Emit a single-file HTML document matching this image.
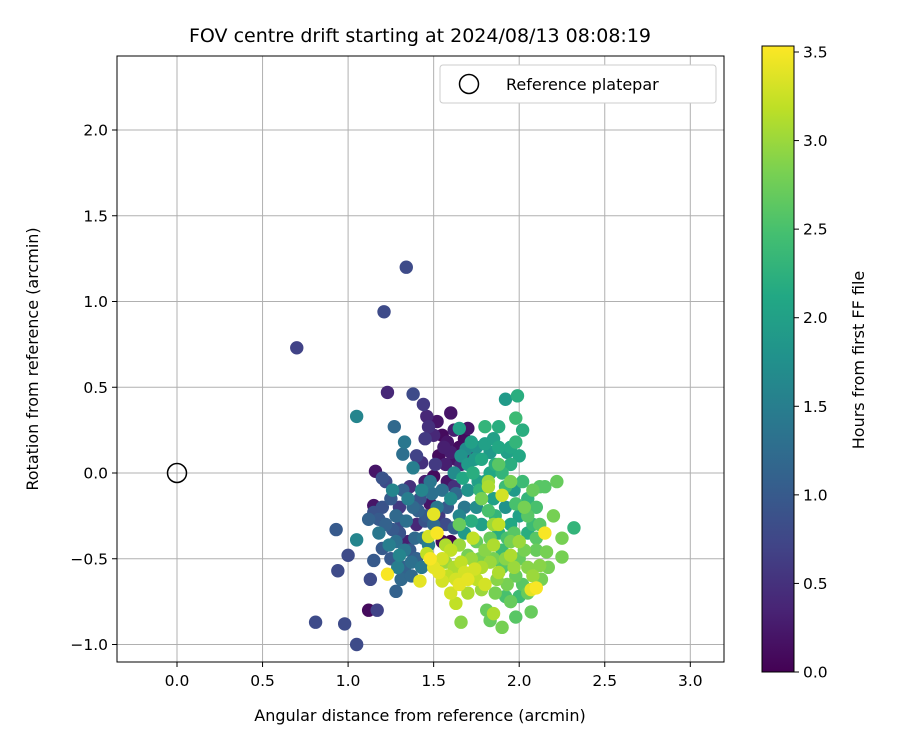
<!DOCTYPE html>
<html><head><meta charset="utf-8"><style>
body{margin:0;background:#fff;font-family:"Liberation Sans","DejaVu Sans",sans-serif}
svg text{font-family:"DejaVu Sans","Liberation Sans",sans-serif}
</style></head><body>
<svg id="chart" width="900" height="750" xmlns="http://www.w3.org/2000/svg">
<defs>
<linearGradient id="vir" x1="0" y1="1" x2="0" y2="0">
<stop offset="0" stop-color="#440154"/><stop offset="0.1" stop-color="#482475"/><stop offset="0.2" stop-color="#414487"/><stop offset="0.3" stop-color="#355f8d"/><stop offset="0.4" stop-color="#2a788e"/><stop offset="0.5" stop-color="#21918c"/><stop offset="0.6" stop-color="#22a884"/><stop offset="0.7" stop-color="#44bf70"/><stop offset="0.8" stop-color="#7ad151"/><stop offset="0.9" stop-color="#bddf26"/><stop offset="1" stop-color="#fde725"/>
</linearGradient>
<clipPath id="clip"><rect x="117" y="56" width="607" height="606"/></clipPath>
</defs>
<rect width="900" height="750" fill="#fff"/>
<g id="grid"></g>
<g id="pts" clip-path="url(#clip)"></g>
<circle cx="177" cy="473" r="9.5" fill="none" stroke="#000" stroke-width="1.5"/>
<rect x="117" y="56" width="607" height="606" fill="none" stroke="#000" stroke-width="1"/>
<g id="axes"></g>
<text x="420" y="42" font-size="19" text-anchor="middle">FOV centre drift starting at 2024/08/13 08:08:19</text>
<text x="420" y="721" font-size="16" text-anchor="middle">Angular distance from reference (arcmin)</text>
<text x="38" y="359" font-size="16" text-anchor="middle" transform="rotate(-90 38 359)">Rotation from reference (arcmin)</text>
<g>
<rect x="440" y="65" width="276" height="38" rx="3" fill="#fff" stroke="#ccc"/>
<circle cx="469" cy="84" r="9.5" fill="none" stroke="#000" stroke-width="1.5"/>
<text x="506" y="90" font-size="16">Reference platepar</text>
</g>
<rect x="762" y="46" width="32" height="626" fill="url(#vir)" stroke="#000" stroke-width="1"/>
<g id="cbaxis"></g>
<text x="864" y="360" font-size="16" text-anchor="middle" transform="rotate(-90 864 360)">Hours from first FF file</text>
</svg>
<script>
const xTicks=["0.0","0.5","1.0","1.5","2.0","2.5","3.0"];
const yTicks=["−1.0","−0.5","0.0","0.5","1.0","1.5","2.0"];
const cTicks=["0.0","0.5","1.0","1.5","2.0","2.5","3.0","3.5"];
const P=[
[0.70,0.73,0.7],[1.21,0.94,0.8],[1.34,1.20,0.8],[1.23,0.47,0.4],[1.38,0.46,0.8],[1.05,0.33,1.6],[1.99,0.45,2.2],[1.92,0.43,1.9],[1.44,0.40,0.6],[1.46,0.33,0.4],[1.52,0.30,0.2],[1.60,0.35,0.2],[0.93,-0.33,1.0],[0.94,-0.57,0.8],[0.81,-0.87,0.8],[0.98,-0.88,0.8],[1.05,-1.00,0.8],[1.12,-0.80,0.1],[1.17,-0.80,0.7],[1.00,-0.48,0.8],[1.05,-0.39,1.6],[1.13,-0.62,0.8],[1.16,0.01,0.2],[1.15,-0.19,0.2],[1.20,-0.44,1.0],[1.15,-0.51,1.0],[2.32,-0.32,2.3],[2.25,-0.38,2.8],[2.25,-0.49,2.8],[2.22,-0.05,2.7],[2.12,-0.08,2.6],[2.02,0.25,2.2],[1.98,0.32,2.4],[1.88,0.27,2.2],[1.80,0.27,2.3],[1.65,0.26,2.0],[1.66,-0.87,2.9],[1.63,-0.76,3.2],[1.81,-0.80,2.7],[1.83,-0.86,2.7],[1.90,-0.90,2.8],[1.98,-0.84,2.6],[2.07,-0.81,2.7],[1.85,-0.82,3.1],[2.10,-0.67,3.5],[2.07,-0.68,3.4],[1.23,-0.59,3.5],[1.28,-0.69,1.1],[2.15,-0.35,3.5],[2.12,-0.54,2.9],[2.17,-0.55,2.8],[2.16,-0.46,2.8],[1.31,-0.62,1.2],
[1.55,0.22,0.1],[1.58,0.18,0.2],[1.62,0.25,0.3],[1.65,0.15,0.1],[1.70,0.26,0.2],[1.68,0.20,0.1],[1.60,0.12,0.3],[1.50,0.22,0.4],[1.47,0.27,0.5],[1.45,0.20,0.6],[1.53,0.10,0.1],[1.57,0.05,0.3],[1.63,0.08,0.2],[1.72,0.12,0.3],[1.58,-0.05,0.2],[1.50,-0.02,0.1],[1.43,0.06,0.5],[1.40,0.10,0.7],[1.55,-0.40,0.1],[1.60,-0.40,0.0],[1.48,-0.18,0.2],[1.45,-0.05,0.3],[1.36,-0.08,0.5],[1.40,-0.30,0.4],[1.30,-0.20,0.6],[1.35,-0.40,0.3],
[1.15,-0.23,0.9],[1.18,-0.27,1.0],[1.20,-0.20,0.9],[1.22,-0.30,1.1],[1.25,-0.15,1.0],[1.28,-0.25,1.2],[1.30,-0.35,0.9],[1.32,-0.10,1.1],[1.34,-0.28,1.3],[1.36,-0.45,1.0],[1.38,-0.20,1.2],[1.40,-0.50,1.1],[1.42,-0.15,0.9],[1.44,-0.38,1.3],[1.46,-0.25,1.0],[1.48,-0.05,1.4],[1.25,-0.50,1.0],[1.33,-0.55,1.1],[1.22,-0.05,0.8],[1.20,-0.03,0.9],[1.27,0.27,1.2],[1.33,0.18,1.4],[1.32,0.11,1.3],[1.38,0.03,1.5],[1.28,-0.40,1.3],[1.35,-0.15,1.5],[1.43,-0.10,1.6],[1.50,-0.30,1.2],[1.52,-0.20,1.4],[1.55,-0.10,1.3],[1.18,-0.35,1.4],[1.24,-0.42,1.5],[1.30,-0.48,1.6],[1.37,-0.60,1.2],[1.43,-0.55,1.4],[1.47,-0.42,1.5],[1.12,-0.27,1.1],[1.26,-0.10,1.6],
[1.62,0.00,1.7],[1.66,0.10,1.8],[1.70,0.05,1.9],[1.72,0.18,2.0],[1.75,0.15,1.8],[1.78,0.08,2.1],[1.80,0.17,2.0],[1.83,0.12,1.9],[1.86,0.05,2.2],[1.88,0.15,2.1],[1.90,0.00,2.3],[1.93,0.12,2.0],[1.95,0.05,2.2],[1.98,0.18,2.3],[2.00,0.10,2.1],[2.02,-0.05,2.4],[1.97,-0.10,1.9],[1.92,-0.20,1.8],[1.85,-0.15,2.0],[1.80,-0.05,1.9],[1.75,-0.20,1.7],[1.70,-0.10,1.8],[1.65,-0.25,1.6],[1.60,-0.15,1.7],[1.68,-0.35,1.9],[1.78,-0.30,2.0],[1.88,-0.35,2.2],[1.95,-0.30,2.1],[2.00,-0.25,2.0],[2.05,-0.15,2.3],[1.73,0.00,2.2],[1.82,-0.22,2.5],[1.90,-0.45,2.4],[2.05,-0.35,2.2],[2.08,-0.30,2.4],[1.67,-0.03,2.1],
[1.75,-0.40,2.7],[1.80,-0.45,2.9],[1.85,-0.50,2.8],[1.90,-0.55,2.6],[1.95,-0.40,2.8],[2.00,-0.50,2.7],[2.05,-0.55,2.9],[2.10,-0.45,2.7],[2.12,-0.30,2.6],[2.15,-0.08,2.6],[2.08,-0.10,2.7],[2.03,-0.20,2.8],[1.98,-0.60,2.7],[2.02,-0.65,2.6],[1.93,-0.65,2.8],[1.87,-0.62,2.9],[1.95,-0.75,2.7],[1.92,-0.72,2.5],[2.00,-0.72,2.4],[1.78,-0.15,2.8],[1.82,-0.05,3.0],[1.85,-0.30,3.0],[1.65,-0.30,2.7],[1.70,-0.48,2.8],[2.20,-0.25,2.8],[2.08,-0.60,3.0],[1.88,0.05,2.6],[1.95,-0.05,2.8],
[1.50,-0.55,3.4],[1.55,-0.50,3.3],[1.58,-0.60,3.2],[1.62,-0.55,3.1],[1.65,-0.65,3.4],[1.68,-0.58,3.3],[1.72,-0.50,3.0],[1.75,-0.62,3.2],[1.78,-0.55,3.1],[1.80,-0.65,3.3],[1.83,-0.52,3.0],[1.60,-0.45,3.2],[1.52,-0.35,3.5],[1.48,-0.50,3.5],[1.50,-0.24,3.4],[1.47,-0.37,3.3],[1.42,-0.63,3.4],[1.55,-0.63,3.3],[1.70,-0.70,3.1],[1.65,-0.42,3.0],[1.73,-0.38,3.2],[1.90,-0.13,3.3],[1.82,-0.08,3.1],[1.88,-0.30,3.2],[1.95,-0.48,3.1],[2.00,-0.40,3.0],[1.60,-0.70,3.3],[1.57,-0.52,3.0],[1.85,-0.42,3.1],
[1.53,-0.25,0.6],[1.57,-0.30,0.8],[1.62,-0.32,1.1],[1.58,-0.20,1.0],[1.63,-0.12,1.2],[1.68,-0.20,1.4],[1.45,-0.28,0.9],[1.39,-0.38,1.2],[1.33,-0.45,1.4],[1.26,-0.33,1.0],[1.31,-0.28,0.8],[1.41,-0.22,1.1],[1.49,-0.12,1.3],[1.37,-0.52,1.3],[1.29,-0.55,1.5],[1.56,0.15,0.3],[1.66,0.05,0.4],[1.51,0.05,0.6],[1.62,-0.08,0.5],[1.72,-0.28,2.2],[1.77,-0.10,2.3],[1.83,0.00,2.1],[1.92,-0.08,2.4],[1.98,-0.18,2.5],[2.05,-0.25,2.6],[2.10,-0.20,2.5],[1.97,-0.35,2.6],[1.83,-0.38,2.7],[1.77,-0.50,2.8],[1.92,-0.50,2.9],[2.03,-0.45,2.8],[1.97,-0.55,3.0],[1.88,-0.58,3.1],[1.74,-0.56,3.3],[1.66,-0.52,3.2],[1.63,-0.62,3.3],[1.70,-0.62,3.4],[1.57,-0.42,3.1],[1.53,-0.58,3.4],[1.46,-0.47,3.2],[1.78,-0.68,3.0],[1.86,-0.70,2.8],[2.05,-0.70,2.7],[2.13,-0.62,2.8],[1.95,0.15,2.1],[1.85,0.20,2.0],[1.74,0.08,1.9],[1.69,0.14,1.7],[1.76,-0.05,2.0],[1.86,-0.25,2.3],[1.93,-0.38,2.5],[2.10,-0.38,2.6]
];
const NS="http://www.w3.org/2000/svg";
const X=v=>177+v*171.1, Y=v=>473-v*171.5, C=v=>672-v*(620/3.5);
const vir=["#440154","#482475","#414487","#355f8d","#2a788e","#21918c","#22a884","#44bf70","#7ad151","#bddf26","#fde725"];
function hex(h){return [1,3,5].map(i=>parseInt(h.substr(i,2),16));}
function col(h){let t=Math.max(0,Math.min(1,h/3.53))*10,i=Math.min(9,Math.floor(t)),f=t-i,a=hex(vir[i]),b=hex(vir[i+1]);return "rgb("+a.map((v,k)=>Math.round(v+(b[k]-v)*f)).join(",")+")";}
function el(t,a,p){const e=document.createElementNS(NS,t);for(const k in a)e.setAttribute(k,a[k]);p.appendChild(e);return e;}
const grid=document.getElementById('grid'),axes=document.getElementById('axes');
xTicks.forEach(t=>{const v=parseFloat(t),x=X(v);
 const g=el('line',{x1:x,x2:x,y1:56,y2:662,stroke:'#b0b0b0','stroke-width':1},grid);
 el('line',{x1:x,x2:x,y1:662,y2:667,stroke:'#000'},axes);
 const tx=el('text',{x:x,y:686,'font-size':15.5,'text-anchor':'middle'},axes);tx.textContent=t;});
yTicks.forEach(t=>{const v=parseFloat(t.replace('−','-')),y=Y(v);
 const g=el('line',{x1:117,x2:724,y1:y,y2:y,stroke:'#b0b0b0','stroke-width':1},grid);
 el('line',{x1:112,x2:117,y1:y,y2:y,stroke:'#000'},axes);
 const tx=el('text',{x:108,y:y+5.5,'font-size':15.5,'text-anchor':'end'},axes);tx.textContent=t;});
const cb=document.getElementById('cbaxis');
cTicks.forEach(t=>{const y=C(parseFloat(t));
 el('line',{x1:794,x2:799,y1:y,y2:y,stroke:'#000'},cb);
 const tx=el('text',{x:803,y:y+5.5,'font-size':15.5},cb);tx.textContent=t;});
const pts=document.getElementById('pts');
P.slice().sort((a,b)=>a[2]-b[2]).forEach(p=>{
 const c=el('circle',{cx:X(p[0]),cy:Y(p[1]),r:6.7,fill:col(p[2])},pts);
 
 });
</script>
</body></html>
